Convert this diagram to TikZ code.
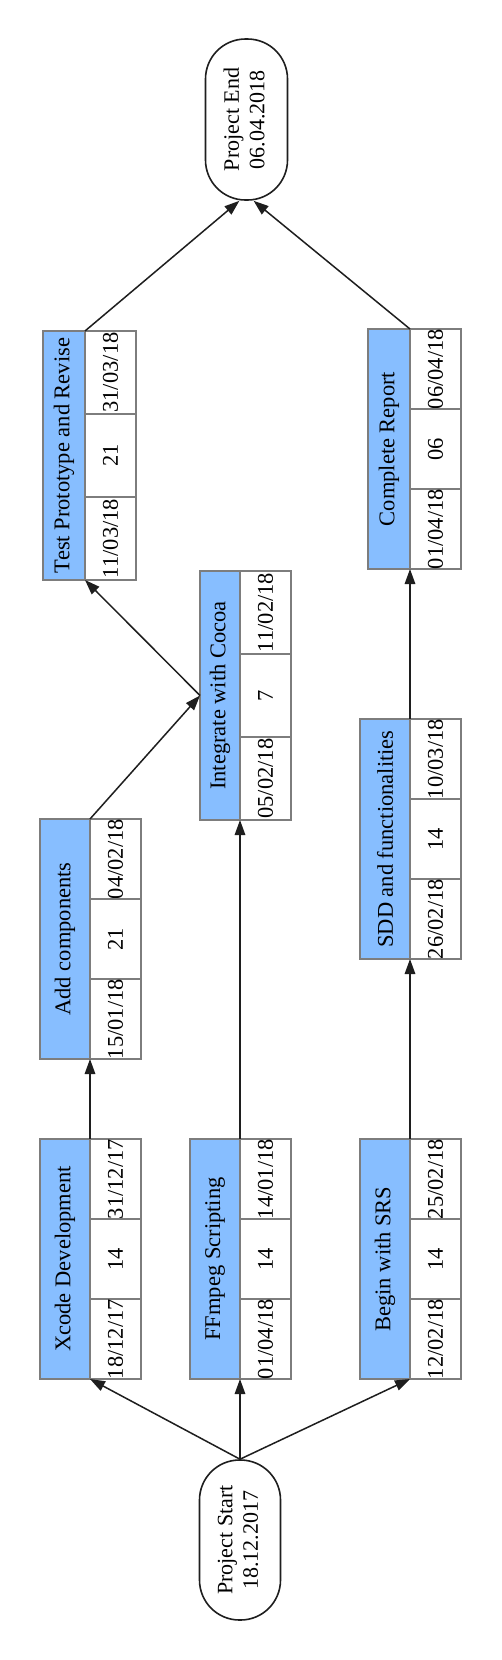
\documentclass[tikz,border=0pt]{standalone}
\usepackage{fontspec}
\setmainfont{Liberation Serif}
\usepackage{graphicx}
\usetikzlibrary{arrows.meta}
\definecolor{taskblue}{RGB}{135,190,255}
\definecolor{cellgray}{RGB}{125,125,125}
\definecolor{edgeblack}{RGB}{30,30,30}
\tikzset{
  boxbase/.style={draw=cellgray, line width=1.1pt, inner sep=0pt, outer sep=0pt,
    font=\fontsize{22.5pt}{26pt}\selectfont},
  bluebox/.style={boxbase, fill=taskblue},
  cellbox/.style={boxbase, fill=white, minimum width=51pt},
  stadium/.style={draw=edgeblack, line width=1.6pt, fill=white, rounded corners=40pt,
    minimum width=81pt, minimum height=160pt, inner sep=0pt,
    font=\fontsize{22pt}{25.5pt}\selectfont},
  conn/.style={draw=edgeblack, line width=1.5pt, -{Triangle[length=15pt,width=10.5pt]}}
}
% #1 name, #2 x, #3 y top, #4 blue width, #5 cell height, #6 title, #7 start, #8 duration, #9 end
\newcommand\taskbox[9]{%
  \node[bluebox, minimum width=#4pt, minimum height=3*#5pt, anchor=north west] (#1b) at (#2,#3) {\rotatebox{90}{#6}};
  \node[cellbox, minimum height=#5pt, anchor=north west] (#1e) at (#1b.north east) {\rotatebox{90}{#9}};
  \node[cellbox, minimum height=#5pt, anchor=north] (#1d) at (#1e.south) {\rotatebox{90}{#8}};
  \node[cellbox, minimum height=#5pt, anchor=north] (#1s) at (#1d.south) {\rotatebox{90}{#7}};
}
\begin{document}
\begin{tikzpicture}[x=1pt,y=-1pt]
\useasboundingbox[fill=white] (0,0) rectangle (501,1660);

\node[stadium] (start) at (240,1540) {\rotatebox{90}{\begin{tabular}{@{}c@{}}Project Start\\18.12.2017\end{tabular}}};
\node[stadium, minimum width=82pt, minimum height=161pt] (finish) at (246.5,119.5) {\rotatebox{90}{\begin{tabular}{@{}c@{}}Project End\\06.04.2018\end{tabular}}};

\taskbox{x}{40}{1139}{50}{80}{Xcode Development}{18/12/17}{14}{31/12/17}
\taskbox{f}{190}{1139}{50}{80}{FFmpeg Scripting}{01/04/18}{14}{14/01/18}
\taskbox{r}{360}{1139}{50}{80}{Begin with SRS}{12/02/18}{14}{25/02/18}
\taskbox{a}{40}{819}{50}{80}{Add components}{15/01/18}{21}{04/02/18}
\taskbox{i}{200}{571}{40}{83}{Integrate with Cocoa}{05/02/18}{7}{11/02/18}
\taskbox{d}{360}{719}{50}{80}{SDD and functionalities}{26/02/18}{14}{10/03/18}
\taskbox{t}{43}{331}{42}{83}{Test Prototype and Revise}{11/03/18}{21}{31/03/18}
\taskbox{c}{368}{329}{42}{80}{Complete Report}{01/04/18}{06}{06/04/18}

\draw[conn] (start.north) -- (xs.south west);
\draw[conn] (start.north) -- (fs.south west);
\draw[conn] (start.north) -- (rs.south west);
\draw[conn] (xe.north west) -- (as.south west);
\draw[conn] (fe.north west) -- (is.south west);
\draw[conn] (re.north west) -- (ds.south west);
\draw[conn] (ae.north west) -- (ib.west);
\draw[conn] (ib.west) -- (ts.south west);
\draw[conn] (de.north west) -- (cs.south west);
\draw[conn] (te.north west) -- (finish.265);
\draw[conn] (ce.north west) -- (finish.275);
\end{tikzpicture}
\end{document}
